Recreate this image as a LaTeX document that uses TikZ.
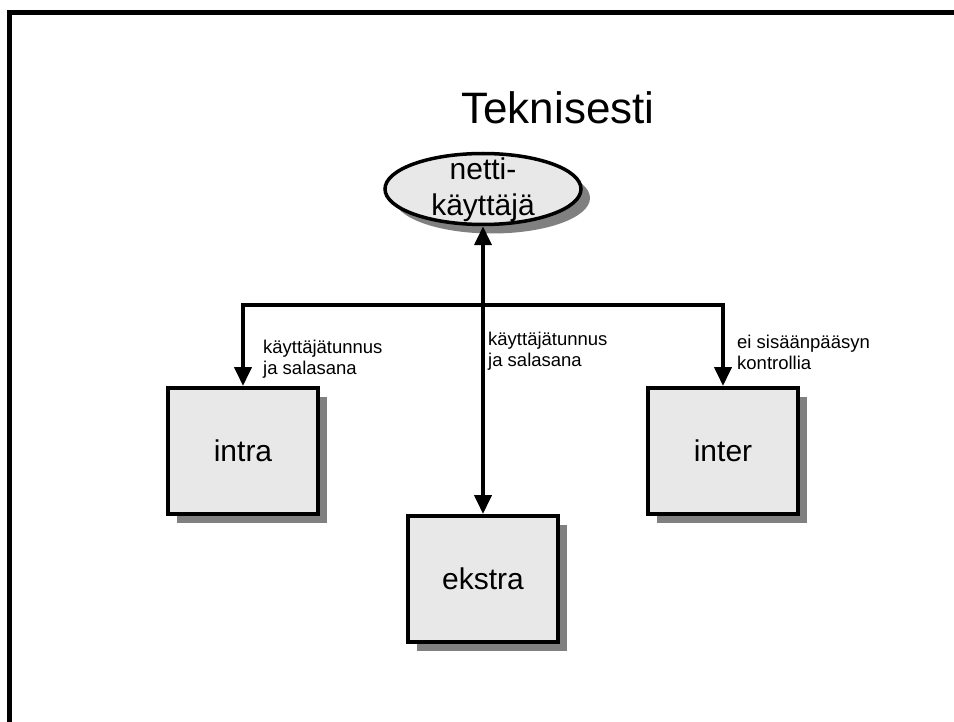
\documentclass[tikz,border=0pt]{standalone}
\usepackage{fontspec}
\setmainfont{Liberation Sans}
\usetikzlibrary{arrows.meta,shapes.geometric,shadows}
\definecolor{boxfill}{HTML}{E8E8E8}
\definecolor{shadowgray}{HTML}{808080}
\begin{document}
\begin{tikzpicture}[x=1pt,y=1pt,
  shade box/.style={draw=black, line width=4pt, fill=boxfill,
    drop shadow={shadow xshift=9pt, shadow yshift=-9pt, fill=shadowgray, opacity=1},
    minimum width=150pt, minimum height=126pt, inner sep=0pt,
    font=\fontsize{30}{34}\selectfont},
  user oval/.style={ellipse, draw=black, line width=3.5pt, fill=boxfill,
    drop shadow={shadow xshift=9pt, shadow yshift=-9pt, fill=shadowgray, opacity=1},
    minimum width=196pt, minimum height=71pt, inner sep=0pt},
  oval text/.style={anchor=base, inner sep=0pt,
    font=\fontsize{30}{34}\selectfont},
  link/.style={line width=4pt},
  tip/.style={-{Triangle[length=19pt,width=17pt]}},
  note/.style={anchor=west, align=left, inner sep=0pt,
    font=\fontsize{18.5}{21}\selectfont}
]
\useasboundingbox (0,0) rectangle (954,-722);
% slide frame (top and left edges)
\draw[line width=4.5pt] (9.5,-722) -- (9.5,-12.5) -- (954,-12.5);

\node (title) at (558,-108) {\fontsize{44}{48}\selectfont Teknisesti};

% the oval keeps its own size; its two text lines sit on top of it
\node[user oval] (user) at (483,-189) {};
\node[oval text] (usertop) at (483,-180) {netti-};
\node[oval text] (userbottom) at (483,-216) {käyttäjä};

\node[shade box] (intra) at (243,-451) {intra};
\node[shade box] (inter) at (723,-451) {inter};
\node[shade box] (ekstra) at (483,-579) {ekstra};

\coordinate (hub) at (483,-305);

\draw[link, {Triangle[length=19pt,width=17pt]}-{Triangle[length=19pt,width=17pt]}]
  (user.south) -- (ekstra.north);
\draw[link, tip] (hub) -| (intra.north);
\draw[link, tip] (hub) -| (inter.north);

\node[note] (lblintra) at (263,-359) {käyttäjätunnus\\ja salasana};
\node[note] (lblekstra) at (488,-351) {käyttäjätunnus\\ja salasana};
\node[note] (lblinter) at (737,-352) {ei sisäänpääsyn\\kontrollia};
\end{tikzpicture}
\end{document}
